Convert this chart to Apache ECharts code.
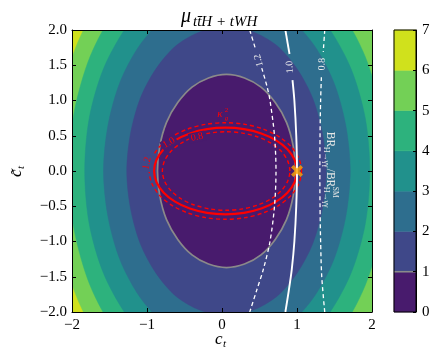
<!DOCTYPE html>
<html>
<head>
<meta charset="utf-8">
<script src="https://cdn.jsdelivr.net/npm/echarts@6/dist/echarts.min.js"></script>
<style>
html, body { margin: 0; padding: 0; background: #fff; }
#chart { width: 440px; height: 360px; }
</style>
</head>
<body>
<div id="chart"></div>
<script>
// colour levels of mu
var muLevels = [0, 1, 2, 3, 4, 5, 6, 7];
var muColors = ['#481b6d', '#3f4889', '#2e6e8e', '#21918c', '#2db27d', '#73d056', '#d0e11c'];

// mu contours, upper half only (the map is symmetric in c~t), [c_t, c~_t]
var muContour1 = [[0.98,0],[0.95,0.35],[0.86,0.69],[0.71,0.97],[0.52,1.19],[0.30,1.32],[0.06,1.37],[-0.18,1.32],[-0.40,1.19],[-0.59,0.97],[-0.74,0.69],[-0.83,0.35],[-0.86,0]];
var muContour2 = [[1.39,0],[1.34,0.53],[1.21,1.03],[1.00,1.45],[0.73,1.78],[0.40,1.98],[0.06,2.05],[-0.28,1.98],[-0.61,1.78],[-0.88,1.45],[-1.09,1.03],[-1.22,0.53],[-1.27,0]];
var muContour3 = [[1.71,0],[1.65,0.65],[1.49,1.26],[1.23,1.78],[0.89,2.18],[0.49,2.43],[0.07,2.52],[-0.36,2.43],[-0.76,2.18],[-1.10,1.78],[-1.36,1.26],[-1.52,0.65],[-1.58,0]];
var muContour4 = [[1.97,0],[1.91,0.75],[1.72,1.45],[1.41,2.05],[1.02,2.51],[0.56,2.80],[0.07,2.90],[-0.42,2.80],[-0.88,2.51],[-1.27,2.05],[-1.58,1.45],[-1.77,0.75],[-1.83,0]];
var muContour5 = [[2.20,0],[2.12,0.84],[1.91,1.62],[1.57,2.29],[1.14,2.81],[0.62,3.13],[0.08,3.24],[-0.47,3.13],[-0.99,2.81],[-1.42,2.29],[-1.76,1.62],[-1.97,0.84],[-2.05,0]];
var muContour6 = [[2.41,0],[2.33,0.92],[2.10,1.78],[1.73,2.51],[1.25,3.07],[0.68,3.43],[0.08,3.55],[-0.52,3.43],[-1.09,3.07],[-1.57,2.51],[-1.94,1.78],[-2.17,0.92],[-2.25,0]];

// kappa_g^2 contours (0.8, 1.0, 1.2), upper half
var kg08 = [[0.905,0],[0.876,0.144],[0.791,0.279],[0.656,0.394],[0.48,0.482],[0.275,0.538],[0.055,0.557],[-0.165,0.538],[-0.37,0.482],[-0.546,0.394],[-0.681,0.279],[-0.766,0.144],[-0.795,0]];
var kg10 = [[1.0,0],[0.968,0.159],[0.872,0.308],[0.721,0.435],[0.524,0.533],[0.294,0.594],[0.048,0.615],[-0.199,0.594],[-0.429,0.533],[-0.626,0.435],[-0.777,0.308],[-0.873,0.159],[-0.905,0]];
var kg12 = [[1.06,0],[1.025,0.177],[0.924,0.343],[0.763,0.484],[0.553,0.593],[0.308,0.662],[0.045,0.685],[-0.218,0.662],[-0.463,0.593],[-0.673,0.484],[-0.834,0.343],[-0.935,0.177],[-0.97,0]];

// BR(H->yy)/BR_SM contours, split where the label sits
var br12 = [[[0.37,2.0],[0.45,1.72]], [[0.53,1.46],[0.60,1.2],[0.64,1.0],[0.70,0.5],[0.72,0],[0.70,-0.5],[0.64,-1.0],[0.55,-1.4],[0.46,-1.7],[0.37,-2.0]]];
var br10 = [[[0.845,2.0],[0.90,1.66]], [[0.94,1.29],[0.965,1.0],[0.99,0.5],[1.0,0],[0.99,-0.5],[0.965,-1.0],[0.93,-1.4],[0.89,-1.7],[0.845,-2.0]]];
var br08 = [[[1.37,2.0],[1.35,1.69]], [[1.325,1.33],[1.315,1.0],[1.307,0.5],[1.305,0],[1.307,-0.5],[1.315,-1.0],[1.33,-1.5],[1.37,-2.0]]];

var smPoint = [[1, 0]];

var xTicks = [-2, -1, 0, 1, 2];
var yTicks = [-2, -1.5, -1, -0.5, 0, 0.5, 1, 1.5, 2];

var serif = '"Liberation Serif", "DejaVu Serif", serif';

function mirror(half) {
    var low = half.slice(1, -1).reverse().map(function (p) { return [p[0], -p[1]]; });
    return half.concat(low);
}
function minus(s) { return s.replace('-', '\u2212'); }

var fills = [
    [muContour6, muColors[5]],
    [muContour5, muColors[4]],
    [muContour4, muColors[3]],
    [muContour3, muColors[2]],
    [muContour2, muColors[1]],
    [muContour1, muColors[0]]
];

// inline contour labels (bg hides the line under the label, like clabel)
var notes = [
    { at: [0.49, 1.57], rot: 105, color: '#eeeeee', parts: [['1.2', 0, 0, 10]] },
    { at: [0.905, 1.475], rot: 95, color: '#eeeeee', parts: [['1.0', 0, 0, 10]] },
    { at: [1.333, 1.515], rot: 88, color: '#eeeeee', parts: [['0.8', 0, 0, 10]] },
    { at: [-0.707, 0.40], rot: 30, color: '#ff0000', bg: muColors[0], parts: [['1.0', 0, 0, 10]] },
    { at: [-0.333, 0.48], rot: 12, color: '#ff0000', bg: muColors[0], parts: [['0.8', 0, 0, 10]] },
    { at: [-1.0, 0.11], rot: 78, color: '#ff0000', bg: muColors[1], parts: [['1.2', 0, 0, 10]] },
    { at: [0.0, 0.80], rot: 0, color: '#ff0000', parts: [['κ', -2, 0, 11, 'italic'], ['2', 4.5, -4.5, 7], ['g', 4.5, 3.5, 7, 'italic']] },
    { at: [1.44, -0.01], rot: -90, color: '#e6e6e6', parts: [
        ['BR', -40, 0, 11.5, '', 'left'],
        ['H→γγ', -25, 3.5, 8, '', 'left'],
        ['/BR', -3, 0, 11.5, '', 'left'],
        ['SM', 15, -4.5, 7.5, '', 'left'],
        ['H→γγ', 15, 3.5, 8, '', 'left']
    ] }
];

var chart = echarts.init(document.getElementById('chart'));

function axisStyle(extra) {
    var base = {
        type: 'value',
        z: 10,
        axisLine: { onZero: false, lineStyle: { color: '#000', width: 1 } },
        axisTick: { inside: true, length: 4, lineStyle: { color: '#000', width: 1 } },
        axisLabel: { fontFamily: serif, fontSize: 15, color: '#000' },
        splitLine: { show: false }
    };
    for (var k in extra) base[k] = extra[k];
    return base;
}

var option = {
    animation: false,
    grid: [
        { left: 72, top: 30, width: 300, height: 282, show: true, backgroundColor: muColors[6], borderWidth: 0 },
        { left: 394, top: 30, width: 22, height: 282 }
    ],
    xAxis: [
        axisStyle({ gridIndex: 0, position: 'bottom', min: xTicks[0], max: xTicks[xTicks.length - 1], interval: 1,
            axisLabel: { fontFamily: serif, fontSize: 15, color: '#000', margin: 6,
                formatter: function (v) { return minus(String(v)); } } }),
        axisStyle({ gridIndex: 0, position: 'top', min: -2, max: 2, interval: 1, axisLabel: { show: false } }),
        { gridIndex: 1, type: 'value', min: 0, max: 1, show: false }
    ],
    yAxis: [
        axisStyle({ gridIndex: 0, position: 'left', min: yTicks[0], max: yTicks[yTicks.length - 1], interval: 0.5,
            axisLabel: { fontFamily: serif, fontSize: 15, color: '#000', margin: 5,
                formatter: function (v) { return minus(v.toFixed(1)); } } }),
        axisStyle({ gridIndex: 0, position: 'right', min: -2, max: 2, interval: 0.5, axisLabel: { show: false } }),
        axisStyle({ gridIndex: 1, position: 'right', min: muLevels[0], max: muLevels[muLevels.length - 1], interval: 1,
            axisTick: { inside: true, length: 3, lineStyle: { color: '#000' } },
            axisLabel: { fontFamily: serif, fontSize: 15, color: '#000', margin: 6 } })
    ],
    graphic: [
        { type: 'text', x: 181, y: 17, style: { text: 'μ', fontFamily: serif, fontStyle: 'italic', fontSize: 20, fill: '#000', align: 'left', verticalAlign: 'middle' } },
        { type: 'text', x: 193, y: 22, style: { text: 'tt\u0304H + tWH', fontFamily: serif, fontStyle: 'italic', fontSize: 15, fill: '#000', align: 'left', verticalAlign: 'middle' } },
        { type: 'text', x: 215, y: 340, style: { text: 'c', fontFamily: serif, fontStyle: 'italic', fontSize: 17, fill: '#000', align: 'left', verticalAlign: 'middle' } },
        { type: 'text', x: 223, y: 344, style: { text: 't', fontFamily: serif, fontStyle: 'italic', fontSize: 11, fill: '#000', align: 'left', verticalAlign: 'middle' } },
        { type: 'group', x: 17, y: 171, rotation: Math.PI / 2, children: [
            { type: 'text', x: -6, y: 0, style: { text: 'c\u0303', fontFamily: serif, fontStyle: 'italic', fontSize: 17, fill: '#000', align: 'left', verticalAlign: 'middle' } },
            { type: 'text', x: 2, y: 4, style: { text: 't', fontFamily: serif, fontStyle: 'italic', fontSize: 11, fill: '#000', align: 'left', verticalAlign: 'middle' } }
        ] }
    ],
    series: [
        {   // filled mu levels
            type: 'custom', xAxisIndex: 0, yAxisIndex: 0, clip: true, silent: true,
            data: [[0, 0]],
            renderItem: function (params, api) {
                return { type: 'group', children: fills.map(function (f) {
                    return { type: 'polygon', shape: { points: mirror(f[0]).map(function (p) { return api.coord(p); }), smooth: 0.3 },
                        style: { fill: f[1], stroke: f[1], lineWidth: 0.5 } };
                }) };
            }
        },
        {   // mu = 1 line
            type: 'custom', xAxisIndex: 0, yAxisIndex: 0, clip: true, silent: true,
            data: [[0, 0]],
            renderItem: function (params, api) {
                return { type: 'polygon', shape: { points: mirror(muContour1).map(function (p) { return api.coord(p); }), smooth: 0.3 },
                    style: { fill: 'none', stroke: '#8a8a8a', lineWidth: 1.7 } };
            }
        },
        {   // kappa_g^2
            type: 'custom', xAxisIndex: 0, yAxisIndex: 0, clip: true, silent: true,
            data: [[0, 0]],
            renderItem: function (params, api) {
                var rings = [[kg08, [4, 3], 1.4], [kg12, [4, 3], 1.4], [kg10, null, 2.2]];
                return { type: 'group', children: rings.map(function (r) {
                    return { type: 'polygon', shape: { points: mirror(r[0]).map(function (p) { return api.coord(p); }), smooth: 0.3 },
                        style: { fill: 'none', stroke: '#ff0000', lineWidth: r[2], lineDash: r[1] } };
                }) };
            }
        },
        {   // BR ratio lines
            type: 'custom', xAxisIndex: 0, yAxisIndex: 0, clip: true, silent: true,
            data: [[0, 0]],
            renderItem: function (params, api) {
                var kids = [];
                [[br12, [4, 3], 1.3], [br10, null, 1.9], [br08, [4, 3], 1.3]].forEach(function (l) {
                    l[0].forEach(function (seg) {
                        kids.push({ type: 'polyline', shape: { points: seg.map(function (p) { return api.coord(p); }), smooth: 0.3 },
                            style: { fill: 'none', stroke: '#ffffff', lineWidth: l[2], lineDash: l[1] } });
                    });
                });
                return { type: 'group', children: kids };
            }
        },
        {   // contour labels
            type: 'custom', xAxisIndex: 0, yAxisIndex: 0, clip: false, silent: true, z: 11,
            data: notes.map(function (n) { return n.at; }),
            renderItem: function (params, api) {
                var n = notes[params.dataIndex];
                var p = api.coord(n.at);
                return { type: 'group', x: p[0], y: p[1], rotation: n.rot * Math.PI / 180,
                    children: n.parts.map(function (q) {
                        var st = { text: q[0], fill: n.color, fontSize: q[3],
                            fontFamily: serif, fontStyle: q[4] || 'normal', align: q[5] || 'center', verticalAlign: 'middle' };
                        if (n.bg) { st.backgroundColor = n.bg; st.padding = [0, 2]; }
                        return { type: 'text', x: q[1], y: q[2], style: st };
                    }) };
            }
        },
        {
            type: 'scatter', xAxisIndex: 0, yAxisIndex: 0, z: 12, silent: true,
            data: smPoint,
            symbol: 'path://M0,2 L2,0 L5,3 L8,0 L10,2 L7,5 L10,8 L8,10 L5,7 L2,10 L0,8 L3,5 Z',
            symbolSize: 12,
            itemStyle: { color: '#ffa500' }
        },
        {   // colour bar
            type: 'custom', xAxisIndex: 2, yAxisIndex: 2, clip: false, silent: true,
            data: [[0, 0]],
            renderItem: function (params, api) {
                var kids = muColors.map(function (c, i) {
                    var a = api.coord([0, muLevels[i + 1]]);
                    var b = api.coord([1, muLevels[i]]);
                    return { type: 'rect', shape: { x: a[0], y: a[1], width: b[0] - a[0], height: b[1] - a[1] },
                        style: { fill: c, stroke: c, lineWidth: 0.5 } };
                });
                var g0 = api.coord([0, 1]), g1 = api.coord([1, 1]);
                kids.push({ type: 'line', shape: { x1: g0[0], y1: g0[1], x2: g1[0], y2: g1[1] },
                    style: { stroke: '#8a8a8a', lineWidth: 1.6 } });
                var t = api.coord([0, 7]), u = api.coord([1, 0]);
                kids.push({ type: 'rect', shape: { x: t[0], y: t[1], width: u[0] - t[0], height: u[1] - t[1] },
                    style: { fill: 'none', stroke: '#000', lineWidth: 1 } });
                return { type: 'group', children: kids };
            }
        }
    ]
};

chart.setOption(option);
</script>
</body>
</html>
